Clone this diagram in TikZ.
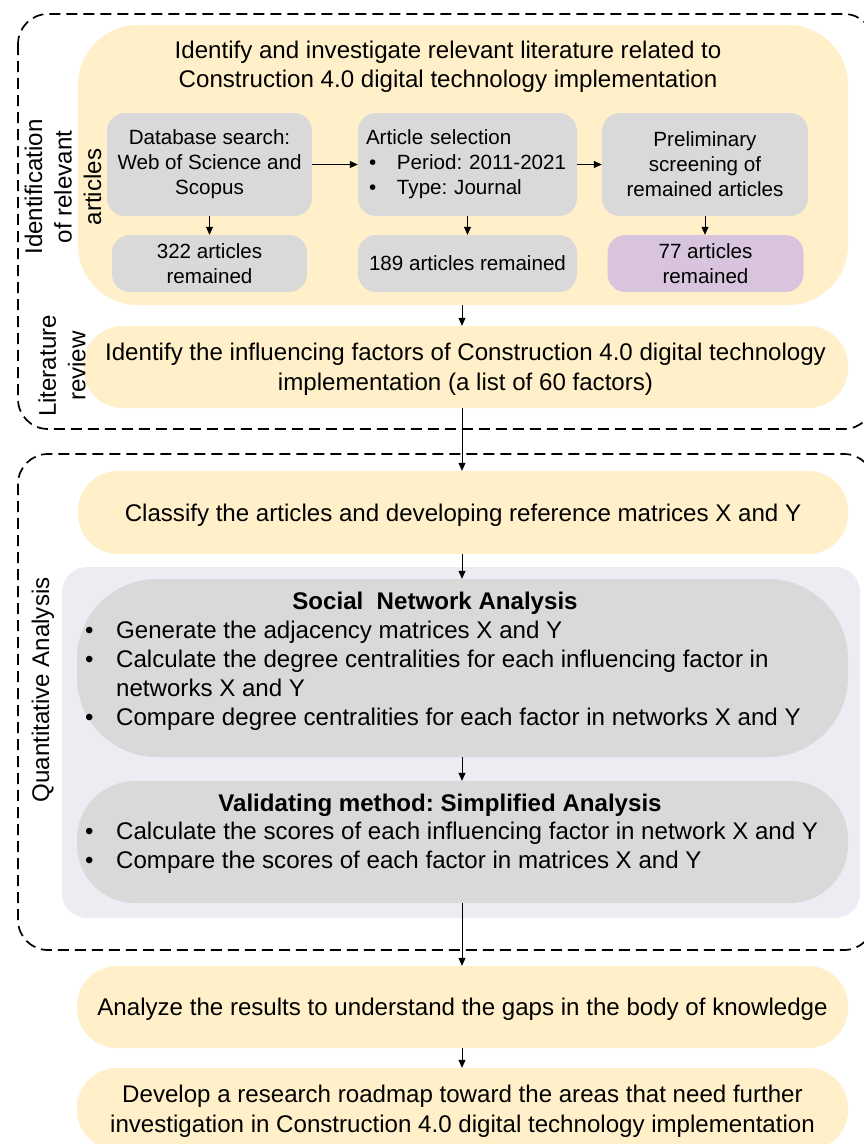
\documentclass[tikz,border=0pt]{standalone}
\usepackage{fontspec}
\setmainfont{Liberation Sans}
\usetikzlibrary{arrows.meta}
\definecolor{yel}{HTML}{FFF0C9}
\definecolor{gry}{HTML}{D9D9D9}
\definecolor{pur}{HTML}{D8C4DC}
\definecolor{lav}{HTML}{EFEBF3}
\newcommand{\bigf}{\fontsize{24.1}{29.5}\selectfont}
\newcommand{\snaf}{\fontsize{24.1}{29}\selectfont}
\newcommand{\smallf}{\fontsize{20.6}{25}\selectfont}
\newcommand{\bul}{\makebox[31pt][l]{\textbullet}}
\frenchspacing
\begin{document}
\begin{tikzpicture}[x=1pt,y=-1pt,
  box/.style={rectangle, inner sep=0pt, align=center, draw=none},
  ybox/.style={box, fill=yel, font=\bigf, text depth=0pt},
  gbox/.style={box, fill=gry, rounded corners=18pt, font=\smallf},
  arr/.style={draw=black, line width=0.7pt, -{Triangle[width=7pt,length=8pt]}},
  dbox/.style={draw=black, line width=1.7pt, dash pattern=on 11pt off 6pt, rounded corners=30pt},
  lab/.style={rotate=90, align=center, font=\bigf, inner sep=0pt}
]
\useasboundingbox (0,0) rectangle (864,1144);
\fill[white] (0,0) rectangle (864,1144);
\draw[dbox] (18,14) rectangle (874,429);
\draw[dbox] (18,454) rectangle (874,950);

% identification stage
\node[box, fill=yel, rounded corners=60pt, minimum width=770pt, minimum height=280pt] (top) at (463,165) {};
\node[font=\bigf, align=center, inner sep=0pt] (toptitle) at (448,67) {Identify and investigate relevant literature related to\\Construction 4.0 digital technology implementation};

\node[gbox, minimum width=205pt, minimum height=103pt] (db) at (209.5,164.5) {Database search:\\Web of Science and\\Scopus};
\node[gbox, minimum width=195pt, minimum height=57pt] (n322) at (209.5,263.5) {322 articles\\remained};
\node[gbox, minimum width=219pt, minimum height=103pt, text width=203pt, align=left, inner xsep=8pt] (sel) at (467.5,164.5)
  {\begin{tabular}{@{}l@{}l@{}}\multicolumn{2}{@{}l@{}}{Article selection}\\
   \hspace*{3pt}\makebox[28pt][l]{\textbullet}&Period: 2011-2021\\
   \hspace*{3pt}\makebox[28pt][l]{\textbullet}&Type: Journal\end{tabular}};
\node[gbox, minimum width=219pt, minimum height=57pt] (n189) at (467.5,263.5) {189 articles remained};
\node[gbox, minimum width=206pt, minimum height=103pt] (pre) at (705,164.5) {Preliminary\\screening of\\remained articles};
\node[gbox, fill=pur, minimum width=196pt, minimum height=57pt] (n77) at (705.5,263.5) {77 articles\\remained};

\draw[arr] (db) -- (sel);
\draw[arr] (sel) -- (pre);
\draw[arr] (db) -- (n322);
\draw[arr] (sel) -- (n189);
\draw[arr] (pre.south) -- (pre.south |- n77.north);

% literature review
\node[ybox, rounded corners=40pt, minimum width=765pt, minimum height=82pt] (rev) at (465.5,367)
  {Identify the influencing factors of Construction 4.0 digital technology\\implementation (a list of 60 factors)};

% quantitative analysis
\node[ybox, rounded corners=40pt, minimum width=770pt, minimum height=83pt] (cls) at (463,512.5)
  {Classify the articles and developing reference matrices X and Y};
\node[box, fill=lav, rounded corners=25pt, minimum width=798pt, minimum height=351pt] (qa) at (461,742.5) {};
\node[box, fill=gry, rounded corners=80pt, minimum width=771pt, minimum height=178pt] (sna) at (462.5,668) {};
\node[font=\snaf\bfseries, inner sep=0pt] (snat) at (435,603) {Social\ \ Network Analysis};
\node[font=\snaf, anchor=west, inner sep=0pt] (snab) at (85,676)
  {\begin{tabular}{@{}l@{}l@{}}
   \bul&Generate the adjacency matrices X and Y\\
   \bul&Calculate the degree centralities for each influencing factor in\\
   &networks X and Y\\
   \bul&Compare degree centralities for each factor in networks X and Y
   \end{tabular}};
\node[box, fill=gry, rounded corners=58pt, minimum width=771pt, minimum height=122pt] (val) at (462.5,842) {};
\node[font=\snaf\bfseries, inner sep=0pt] (valt) at (440,805) {Validating method: Simplified Analysis};
\node[font=\snaf, anchor=west, inner sep=0pt] (valb) at (85,848.5)
  {\begin{tabular}{@{}l@{}l@{}}
   \bul&Calculate the scores of each influencing factor in network X and Y\\
   \bul&Compare the scores of each factor in matrices X and Y
   \end{tabular}};

% results
\node[ybox, rounded corners=40pt, minimum width=771pt, minimum height=82pt] (ana) at (462.5,1007)
  {Analyze the results to understand the gaps in the body of knowledge};
\node[ybox, rounded corners=40pt, minimum width=771pt, minimum height=82pt] (dev) at (462.5,1109)
  {Develop a research roadmap toward the areas that need further\\investigation in Construction 4.0 digital technology implementation};

\coordinate (spine) at (462,0);
\draw[arr] (top.south -| spine) -- (rev.north -| spine);
\draw[arr] (rev.south -| spine) -- (cls.north -| spine);
\draw[arr] (cls.south -| spine) -- (sna.north -| spine);
\draw[arr] (sna.south -| spine) -- (val.north -| spine);
\draw[arr] (val.south -| spine) -- (ana.north -| spine);
\draw[arr] (ana.south -| spine) -- (dev.north -| spine);

% side labels
\node[lab] (l1) at (63,187) {Identification\\of relevant\\articles};
\node[lab] (l2) at (62,366) {Literature\\review};
\node[lab] (l3) at (43,690) {Quantitative Analysis};
\end{tikzpicture}
\end{document}
